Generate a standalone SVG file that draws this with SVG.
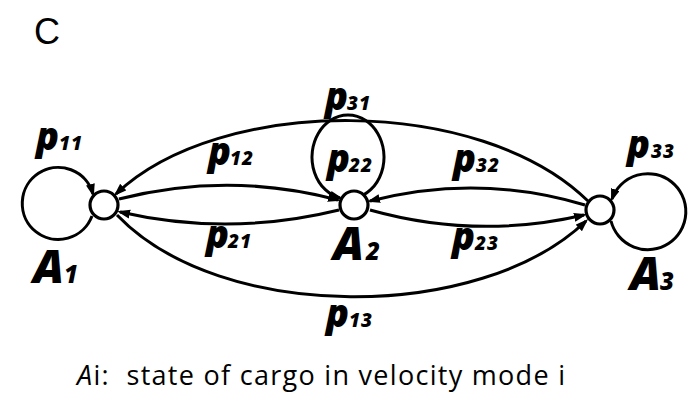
<svg xmlns="http://www.w3.org/2000/svg" width="695" height="402" viewBox="0 0 695 402">
<style>
.edge{fill:none;stroke:#000;stroke-width:3}
.node{fill:#fff;stroke:#000;stroke-width:3.2}
.lab{font-family:"Open Sans","Liberation Sans",sans-serif;font-weight:800;font-style:italic;fill:#000}
.p{font-size:38px}
.n{font-size:19px;letter-spacing:1px}
.A{font-size:46px}
.An{font-size:24px}
.cap{font-family:"Open Sans","Liberation Sans",sans-serif;font-size:27px;fill:#000}
</style>
<defs>
<marker id="ah" markerUnits="userSpaceOnUse" markerWidth="14" markerHeight="10" refX="10" refY="4.5" orient="auto">
<path d="M0,0 L13,4.5 L0,9 z" fill="#000"/>
</marker>
</defs>
<rect width="695" height="402" fill="#fff"/>
<text x="34" y="44" font-family="Liberation Sans, Arial, sans-serif" font-size="36">C</text>
<g id="connectors">
<path class="edge" d="M 92 216 A 36 36 0 1 1 93 194" marker-end="url(#ah)"/>
<path class="edge" d="M 356 198 A 36 42 0 1 0 340 198" marker-end="url(#ah)"/>
<path class="edge" d="M 611 221 A 38 38 0 1 0 612 199" marker-end="url(#ah)"/>
<path class="edge" d="M 119 199 Q 229 171 338 200" marker-end="url(#ah)"/>
<path class="edge" d="M 339 210 Q 229 237 120 212" marker-end="url(#ah)"/>
<path class="edge" d="M 585 205 Q 478 173 370 201" marker-end="url(#ah)"/>
<path class="edge" d="M 370 210 Q 477 240 584 215" marker-end="url(#ah)"/>
<path class="edge" d="M 588 201 C 480 95 220 95 116 194" marker-end="url(#ah)"/>
<path class="edge" d="M 117 215 C 220 323 480 323 586 221" marker-end="url(#ah)"/>
</g>
<g id="A1">
<circle class="node" cx="104" cy="205" r="14"/>
<text class="lab" x="33" y="283"><tspan class="A">A</tspan><tspan class="An" x="64">1</tspan></text>
</g>
<g id="A2">
<circle class="node" cx="354" cy="205" r="14"/>
<text class="lab" x="333" y="260"><tspan class="A">A</tspan><tspan class="An" x="366">2</tspan></text>
</g>
<g id="A3">
<circle class="node" cx="600" cy="210" r="14"/>
<text class="lab" x="630" y="290"><tspan class="A">A</tspan><tspan class="An" x="660">3</tspan></text>
</g>
<g id="labels">
<text class="lab" x="36" y="150"><tspan class="p">p</tspan><tspan class="n" x="59">11</tspan></text>
<text class="lab" x="208" y="165"><tspan class="p">p</tspan><tspan class="n" x="230">12</tspan></text>
<text class="lab" x="325" y="110"><tspan class="p">p</tspan><tspan class="n" x="347">31</tspan></text>
<text class="lab" x="327" y="172"><tspan class="p">p</tspan><tspan class="n" x="349">22</tspan></text>
<text class="lab" x="453" y="172"><tspan class="p">p</tspan><tspan class="n" x="476">32</tspan></text>
<text class="lab" x="206" y="248"><tspan class="p">p</tspan><tspan class="n" x="228">21</tspan></text>
<text class="lab" x="452" y="250"><tspan class="p">p</tspan><tspan class="n" x="475">23</tspan></text>
<text class="lab" x="627" y="158"><tspan class="p">p</tspan><tspan class="n" x="651">33</tspan></text>
<text class="lab" x="326" y="327"><tspan class="p">p</tspan><tspan class="n" x="349">13</tspan></text>
</g>
<text class="cap" x="77" y="385" textLength="488" lengthAdjust="spacing" xml:space="preserve"><tspan font-style="italic">A</tspan>i:  state of cargo in velocity mode i</text>
</svg>
